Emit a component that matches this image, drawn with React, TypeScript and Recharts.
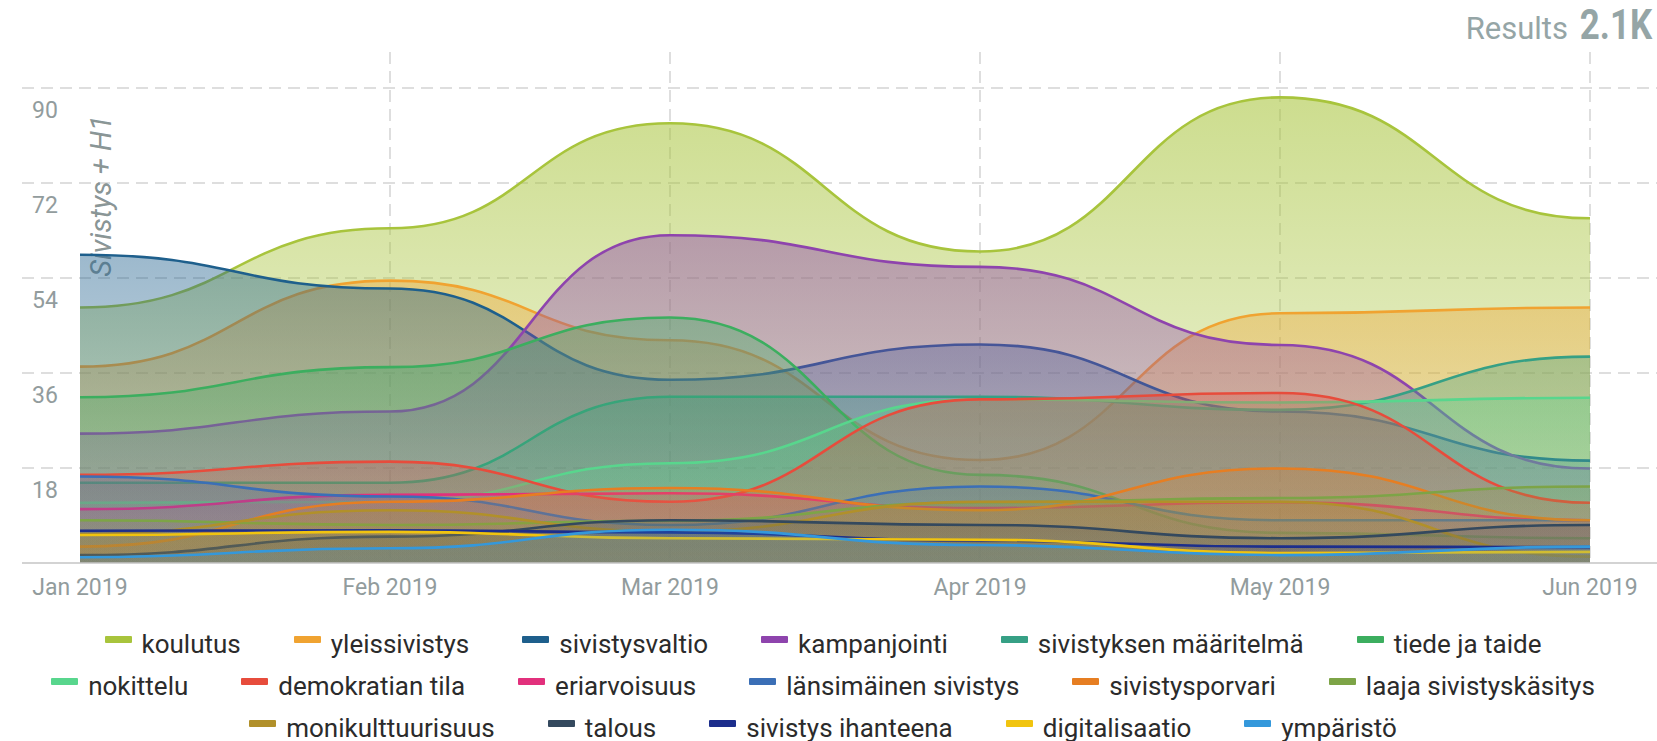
import React from 'react';
import { AreaChart, Area, XAxis, YAxis, CartesianGrid, Customized } from 'recharts';

// monthly points, Jan..Jun 2019
const months = [
  Date.UTC(2019, 0, 1),
  Date.UTC(2019, 1, 1),
  Date.UTC(2019, 2, 1),
  Date.UTC(2019, 3, 1),
  Date.UTC(2019, 4, 1),
  Date.UTC(2019, 5, 1),
];
const monthLabels = ['Jan 2019', 'Feb 2019', 'Mar 2019', 'Apr 2019', 'May 2019', 'Jun 2019'];
const yTicks = [0, 18, 36, 54, 72, 90];

const koulutus = [48.4, 63.4, 83.3, 59, 88.2, 65.3];
const yleissivistys = [37.2, 53.5, 42.2, 19.5, 47.3, 48.4];
const sivistysvaltio = [58.4, 52, 34.7, 41.4, 28.7, 19.4];
const kampanjointi = [24.5, 28.7, 62.1, 56.1, 41.3, 17.9];
const maaritelma = [15.2, 15.2, 31.5, 31.5, 29, 39.1];
const tiedeJaTaide = [31.4, 37.1, 46.5, 16.7, 5.7, 4.7];
const nokittelu = [11.4, 11.6, 18.9, 31, 30.4, 31.3];
const demokratianTila = [16.7, 19.2, 11.6, 31, 32.2, 11.4];
const eriarvoisuus = [10.2, 12.9, 13.2, 10.4, 11.5, 8.1];
const lansimainen = [16.4, 12.6, 7.2, 14.5, 8.1, 8.1];
const sivistysporvari = [3.1, 11.6, 14.2, 10, 17.9, 8.1];
const laaja = [8.1, 7.2, 8, 11.5, 12.3, 14.5];
const monikulttuurisuus = [5.5, 10, 6, 11.6, 11.6, 1.2];
const talous = [1.5, 5, 8.1, 7.2, 4.7, 7.2];
const ihanteena = [6.1, 6.2, 5.8, 4.2, 3.1, 3.0];
const digitalisaatio = [5.3, 5.9, 4.7, 4.4, 1.9, 2.1];
const ymparisto = [1.1, 2.8, 6.3, 3.4, 1.5, 3.1];

const seriesNames = [
  'koulutus', 'yleissivistys', 'sivistysvaltio', 'kampanjointi', 'sivistyksen määritelmä', 'tiede ja taide',
  'nokittelu', 'demokratian tila', 'eriarvoisuus', 'länsimäinen sivistys', 'sivistysporvari', 'laaja sivistyskäsitys',
  'monikulttuurisuus', 'talous', 'sivistys ihanteena', 'digitalisaatio', 'ympäristö',
];
const seriesColors = [
  '#a8c43c', '#f0a331', '#1e5f8c', '#8e44ad', '#36a085', '#3cae5f',
  '#58d68d', '#e74c3c', '#e2307c', '#3b6fb6', '#e67e22', '#7da447',
  '#b1902a', '#34495e', '#1c2e8c', '#f1c40f', '#3498db',
];
const seriesValues = [
  koulutus, yleissivistys, sivistysvaltio, kampanjointi, maaritelma, tiedeJaTaide,
  nokittelu, demokratianTila, eriarvoisuus, lansimainen, sivistysporvari, laaja,
  monikulttuurisuus, talous, ihanteena, digitalisaatio, ymparisto,
];

const data = months.map((m, i) => {
  const row: Record<string, number> = { month: m };
  seriesValues.forEach((vals, j) => {
    row['s' + j] = vals[i];
  });
  return row;
});

const DAY = 86400000;
const PLOT_LEFT = 22;
const PLOT_TOP = 52;
const PLOT_BOTTOM = 563;
const FONT = 'Roboto, "Noto Sans", sans-serif';
const GRID = '#d4d4d4';
const TICK_COLOR = '#929c9d';

const XTick = (props: any) => {
  const { x, y, payload } = props;
  const idx = months.indexOf(payload.value);
  return (
    <text x={x} y={y + 32} textAnchor="middle" fontSize={23} fill={TICK_COLOR} fontFamily={FONT}>
      {monthLabels[idx]}
    </text>
  );
};

const renderYTick = (props: any) => {
  const { y, payload } = props;
  if (payload.value === 0) return <g />;
  return (
    <text x={PLOT_LEFT + 10} y={y + 30} textAnchor="start" fontSize={23} fill={TICK_COLOR} fontFamily={FONT}>
      {payload.value}
    </text>
  );
};

const AxisTitle = () => (
  <text
    transform="translate(101,196) rotate(-90)"
    textAnchor="middle"
    dominantBaseline="central"
    fontSize={29}
    fontStyle="italic"
    fill="#7a8788"
    fillOpacity={0.9}
    fontFamily={FONT}
  >
    Sivistys + H1
  </text>
);

const legendRows = [seriesNames.slice(0, 6), seriesNames.slice(6, 12), seriesNames.slice(12)];

export default function App() {
  return (
    <div style={{ position: 'absolute', left: 0, top: 0, width: 1657, height: 741, background: '#fff', fontFamily: FONT }}>
      <div style={{ position: 'absolute', right: 89, top: 13, fontSize: 31, lineHeight: '31px', color: '#95a5a6' }}>
        Results
      </div>
      <div
        style={{
          position: 'absolute',
          right: 5,
          top: 4,
          fontSize: 42,
          lineHeight: '42px',
          fontWeight: 700,
          color: '#95a5a6',
          transform: 'scaleX(0.83)',
          transformOrigin: 'right',
        }}
      >
        2.1K
      </div>
      <div style={{ position: 'absolute', left: 0, top: 0 }}>
        <AreaChart width={1657} height={620} data={data} margin={{ top: PLOT_TOP, right: 0, bottom: 0, left: PLOT_LEFT - 1 }}>
          <defs>
            {seriesColors.map((c, j) => (
              <linearGradient
                key={j}
                id={'grad' + j}
                gradientUnits="userSpaceOnUse"
                x1="0"
                y1={PLOT_TOP}
                x2="0"
                y2={PLOT_BOTTOM}
              >
                <stop offset="0%" stopColor={c} stopOpacity={0.62} />
                <stop offset="100%" stopColor={c} stopOpacity={0.16} />
              </linearGradient>
            ))}
          </defs>
          <CartesianGrid
            stroke={GRID}
            strokeWidth={1.5}
            strokeDasharray="12 7"
            verticalValues={months.slice(1)}
            horizontalValues={yTicks.slice(1)}
          />
          <XAxis
            dataKey="month"
            type="number"
            domain={[months[0] - 5.8 * DAY, months[5] + 6.7 * DAY]}
            ticks={months}
            height={57}
            tickSize={0}
            tickMargin={0}
            tickLine={false}
            axisLine={{ stroke: '#c4c4c4', strokeWidth: 1.5 }}
            tick={<XTick />}
            allowDataOverflow
          />
          <YAxis
            width={1}
            domain={[0, 96.8]}
            ticks={yTicks}
            interval={0}
            axisLine={false}
            tickLine={false}
            tick={renderYTick}
            allowDataOverflow
          />
          {seriesNames.map((n, j) => (
            <Area
              key={n}
              type="bumpX"
              dataKey={'s' + j}
              name={n}
              stroke={seriesColors[j]}
              strokeWidth={2.6}
              fill={'url(#grad' + j + ')'}
              fillOpacity={1}
              dot={false}
              activeDot={false}
              isAnimationActive={false}
            />
          ))}
          <Customized component={AxisTitle} />
        </AreaChart>
      </div>
      <div style={{ position: 'absolute', left: 0, top: 623, width: 1646 }}>
        {legendRows.map((row, r) => (
          <div
            key={r}
            style={{ display: 'flex', justifyContent: 'center', columnGap: 53, height: 42, lineHeight: '42px', fontSize: 26, color: '#2b2b2b' }}
          >
            {row.map((n) => {
              const j = seriesNames.indexOf(n);
              return (
                <span key={n} style={{ display: 'inline-flex', alignItems: 'center', whiteSpace: 'nowrap' }}>
                  <span
                    style={{
                      display: 'inline-block',
                      width: 27,
                      height: 7,
                      borderRadius: 1,
                      background: seriesColors[j],
                      marginRight: 10,
                      position: 'relative',
                      top: -5,
                    }}
                  />
                  {n}
                </span>
              );
            })}
          </div>
        ))}
      </div>
    </div>
  );
}
